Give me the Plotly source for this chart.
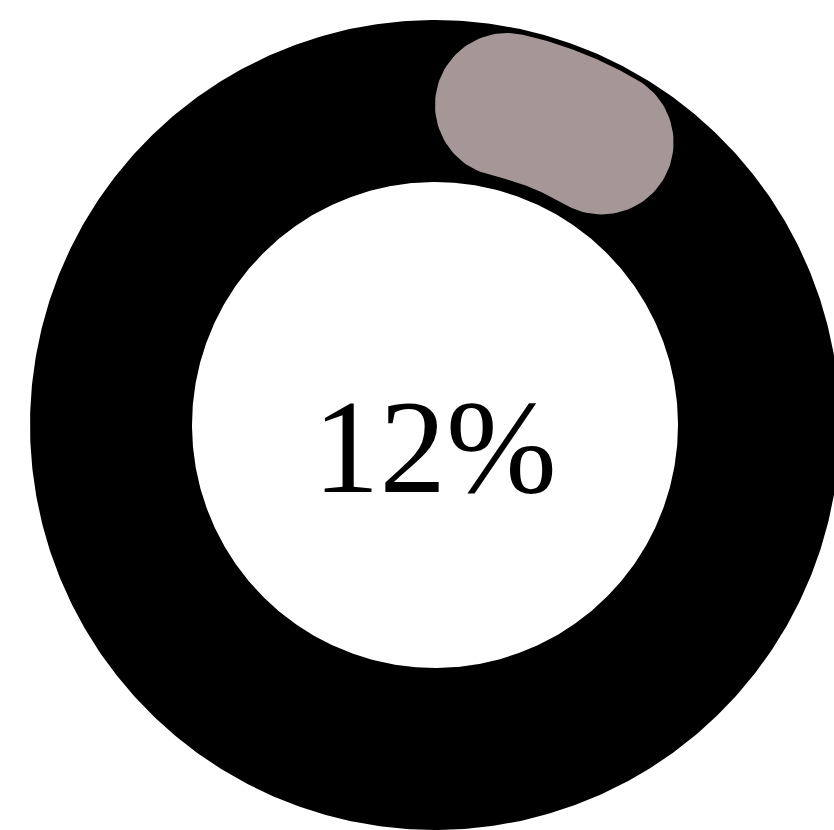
import numpy as np
import plotly.graph_objects as go

# ---- data ----
percent_value = 12          # share shown by the highlighted arc
label_text = ["12%"]        # centre label
ring_colors = ["#000000", "#a59797"]

# ---- geometry (page pixel units) ----
W, H = 834, 830
cx, cy = 435, 425
r_out, r_in = 405, 243
R_mid, half_w = 328, 72


def pt(r, ang):
    return cx + r * np.sin(ang), cy - r * np.cos(ang)


# full ring (outer clockwise, inner counter-clockwise -> hole)
t = np.linspace(0, 2 * np.pi, 721)
ox, oy = pt(r_out, t)
ix, iy = pt(r_in, t[::-1])
ring_x = np.concatenate([ox, ix])
ring_y = np.concatenate([oy, iy])

# rounded arc for the value
a0 = 0.0
a1 = 2 * np.pi * percent_value / 100.0
d = np.arcsin(half_w / R_mid)
phi = np.linspace(a0 + d, a1 - d, 80)
xs, ys = [], []
x, y = pt(R_mid + half_w, phi)
xs += list(x); ys += list(y)
pe = a1 - d
c = np.array(pt(R_mid, pe))
u = np.array([np.sin(pe), -np.cos(pe)])
tv = np.array([np.cos(pe), np.sin(pe)])
for b in np.linspace(0, np.pi, 60):
    p = c + half_w * (np.cos(b) * u + np.sin(b) * tv)
    xs.append(p[0]); ys.append(p[1])
x, y = pt(R_mid - half_w, phi[::-1])
xs += list(x); ys += list(y)
ps = a0 + d
c = np.array(pt(R_mid, ps))
u = np.array([np.sin(ps), -np.cos(ps)])
tv = np.array([np.cos(ps), np.sin(ps)])
for b in np.linspace(np.pi, 0, 60):
    p = c + half_w * (np.cos(b) * u - np.sin(b) * tv)
    xs.append(p[0]); ys.append(p[1])

fig = go.Figure()
fig.add_trace(go.Scatter(x=ring_x, y=ring_y, mode="lines", fill="toself",
                         fillcolor=ring_colors[0], line=dict(width=0),
                         hoverinfo="skip", showlegend=False))
fig.add_trace(go.Scatter(x=xs, y=ys, mode="lines", fill="toself",
                         fillcolor=ring_colors[1], line=dict(width=0),
                         hoverinfo="skip", showlegend=False))

fig.add_annotation(x=cx, y=447, text=label_text[0], showarrow=False,
                   xanchor="center", yanchor="middle",
                   font=dict(family="Liberation Serif", size=133, color="#000000"))

fig.update_layout(
    width=W, height=H,
    margin=dict(l=0, r=0, t=0, b=0),
    paper_bgcolor="#ffffff", plot_bgcolor="#ffffff",
    xaxis=dict(range=[0, W], visible=False, fixedrange=True),
    yaxis=dict(range=[H, 0], visible=False, fixedrange=True),
)
fig.write_html("out.html",
               config={"displayModeBar": False},
               post_script="document.body.style.margin='0';"
                           "document.body.style.overflow='hidden';")
